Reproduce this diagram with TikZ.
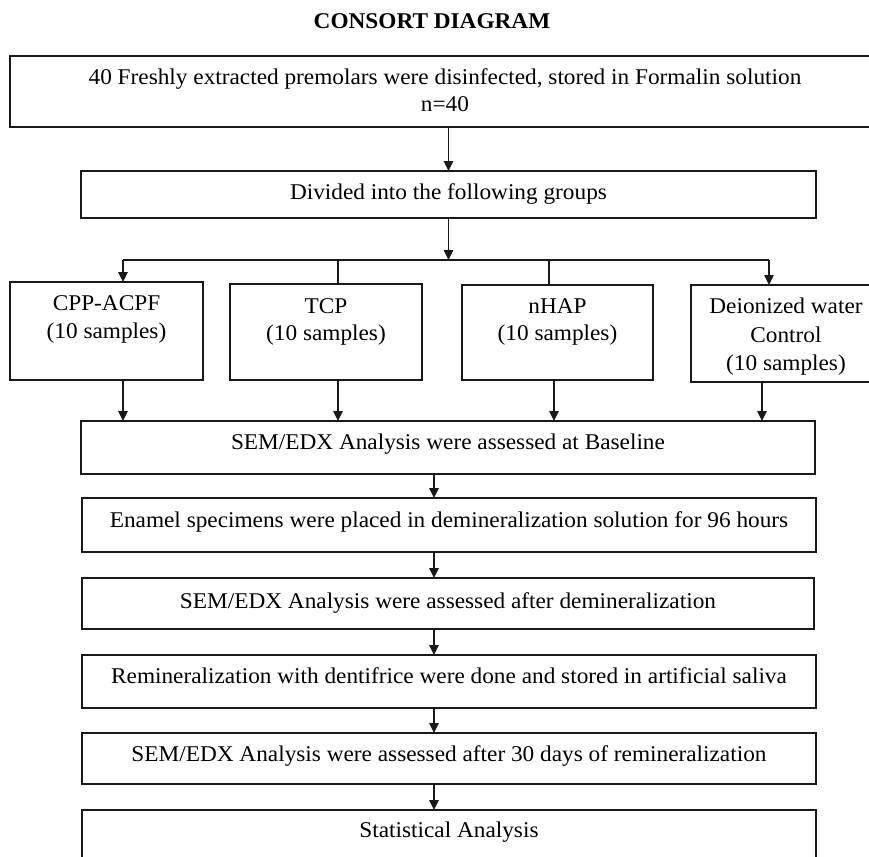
\documentclass[tikz,border=0pt]{standalone}
\usepackage{fontspec}
\setmainfont[FakeStretch=1.035]{Liberation Serif}
\usetikzlibrary{arrows.meta}
\begin{document}
\begin{tikzpicture}[x={(0.5pt,0)},y={(0,-0.5pt)},
  box/.style={draw=black!90, line width=0.9pt, inner sep=0pt, outer sep=0pt, anchor=north west, fill=white},
  lbl/.style={anchor=base, inner sep=0pt, font=\fontsize{11.25pt}{14pt}\selectfont},
  conn/.style={draw=black!90, line width=0.7pt},
  arr/.style={conn, -{Triangle[length=5pt,width=4.8pt]}},
  ]
\useasboundingbox (0,0) rectangle (869,857);
\node[font=\fontsize{11.25pt}{14pt}\selectfont\bfseries, inner sep=0pt] (title) at (432,21) {CONSORT DIAGRAM};
% boxes
\node[box, minimum width=435pt, minimum height=35.5pt,
  label={[lbl, yshift=-14pt]north:40 Freshly extracted premolars were disinfected, stored in Formalin solution},
  label={[lbl, yshift=-27.5pt]north:n=40}] (b1) at (10,56) {};
\node[box, minimum width=367.5pt, minimum height=23.5pt,
  label={[lbl, yshift=-14pt]north:Divided into the following groups}] (b2) at (81,171) {};
\node[box, minimum width=96.5pt, minimum height=49pt,
  label={[lbl, yshift=-14pt]north:CPP-ACPF},
  label={[lbl, yshift=-28pt]north:(10 samples)}] (g1) at (10,282) {};
\node[box, minimum width=96pt, minimum height=48pt,
  label={[lbl, yshift=-14.5pt]north:TCP},
  label={[lbl, yshift=-28pt]north:(10 samples)}] (g2) at (230,284) {};
\node[box, minimum width=95.5pt, minimum height=47.5pt,
  label={[lbl, yshift=-14pt]north:nHAP},
  label={[lbl, yshift=-27.5pt]north:(10 samples)}] (g3) at (462,285) {};
\node[box, minimum width=95pt, minimum height=48.5pt,
  label={[lbl, yshift=-14pt]north:Deionized water},
  label={[lbl, yshift=-28.5pt]north:Control},
  label={[lbl, yshift=-42.5pt]north:(10 samples)}] (g4) at (691,285) {};
\node[box, minimum width=367pt, minimum height=26.5pt,
  label={[lbl, yshift=-14pt]north:SEM/EDX Analysis were assessed at Baseline}] (b3) at (81,421) {};
\node[box, minimum width=367pt, minimum height=27pt,
  label={[lbl, yshift=-14.5pt]north:Enamel specimens were placed in demineralization solution for 96 hours}] (b4) at (82,498) {};
\node[box, minimum width=366pt, minimum height=25.5pt,
  label={[lbl, yshift=-15pt]north:SEM/EDX Analysis were assessed after demineralization}] (b5) at (82,578) {};
\node[box, minimum width=367pt, minimum height=26.5pt,
  label={[lbl, yshift=-14pt]north:Remineralization with dentifrice were done and stored in artificial saliva}] (b6) at (82,655) {};
\node[box, minimum width=367pt, minimum height=25.5pt,
  label={[lbl, yshift=-14pt]north:SEM/EDX Analysis were assessed after 30 days of remineralization}] (b7) at (82,733) {};
\node[box, minimum width=367pt, minimum height=35pt,
  label={[lbl, yshift=-13.5pt]north:Statistical Analysis}] (b8) at (82,810) {};
% coordinates
\coordinate (barL) at (123,260);
\coordinate (barR) at (769,260);
\coordinate (tT) at (338,260);
\coordinate (nT) at (549,260);
\coordinate (d1) at (123,0);
\coordinate (d2) at (338,0);
\coordinate (d3) at (554,0);
\coordinate (d4) at (762,0);
\coordinate (ax) at (434,0);
% connectors
\draw[arr] (b2.north |- b1.south) -- (b2.north);
\draw[arr] (b2.south) -- (b2.south |- barL);
\draw[conn] (barL) -- (barR);
\draw[arr] (barL) -- (barL |- g1.north);
\draw[arr] (barR) -- (barR |- g4.north);
\draw[conn] (tT) -- (tT |- g2.north);
\draw[conn] (nT) -- (nT |- g3.north);
\draw[arr] (g1.south -| d1) -- (b3.north -| d1);
\draw[arr] (g2.south -| d2) -- (b3.north -| d2);
\draw[arr] (g3.south -| d3) -- (b3.north -| d3);
\draw[arr] (g4.south -| d4) -- (b3.north -| d4);
\draw[arr] (b3.south -| ax) -- (b4.north -| ax);
\draw[arr] (b4.south -| ax) -- (b5.north -| ax);
\draw[arr] (b5.south -| ax) -- (b6.north -| ax);
\draw[arr] (b6.south -| ax) -- (b7.north -| ax);
\draw[arr] (b7.south -| ax) -- (b8.north -| ax);
\end{tikzpicture}
\end{document}
